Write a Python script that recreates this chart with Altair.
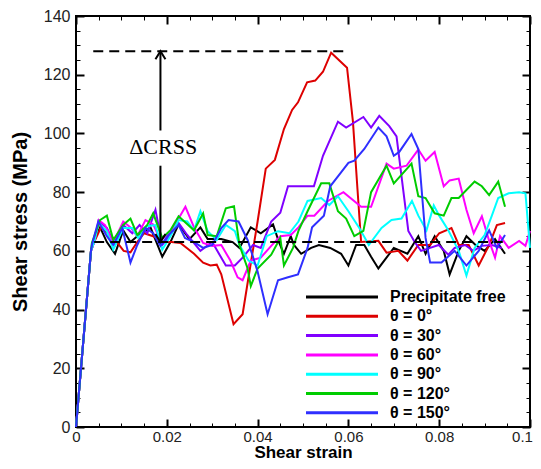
import altair as alt
import pandas as pd

series_names = ["Precipitate free", "θ = 0°", "θ = 30°", "θ = 60°", "θ = 90°", "θ = 120°", "θ = 150°"]
series_colors = ["#000000", "#dd0000", "#8000ff", "#ff00ff", "#00ffff", "#00cc00", "#2f2fff"]

pf_x = [0, 0.0033, 0.0038, 0.0053, 0.0068, 0.0086, 0.0104, 0.012, 0.0135, 0.0164, 0.019, 0.0208, 0.0226,
        0.025, 0.0274, 0.029, 0.032, 0.0345, 0.036, 0.0385, 0.0407, 0.0434, 0.0447, 0.0458, 0.0473, 0.048,
        0.0496, 0.0518, 0.0535, 0.056, 0.0584, 0.060, 0.0617, 0.0635, 0.065, 0.0666, 0.070, 0.073, 0.0754,
        0.077, 0.079, 0.081, 0.0823, 0.0843, 0.086, 0.088, 0.090, 0.0923, 0.0945]
pf_y = [0, 60, 63, 68, 63, 59, 67, 63, 65, 68, 58, 63, 69,
        64, 68, 64, 64, 63, 61, 68, 66, 69, 63, 59, 65, 62,
        59, 61, 62, 61, 59, 55, 62, 62, 58, 54, 61, 59, 65,
        59, 65, 60, 52, 60, 65, 62, 60, 64, 59]

r0_x = [0, 0.0033, 0.004, 0.0055, 0.007, 0.0085, 0.0105, 0.012, 0.0135, 0.015, 0.017, 0.019, 0.021, 0.023,
        0.026, 0.028, 0.0296, 0.031, 0.032, 0.0347, 0.0367, 0.038, 0.040, 0.0418, 0.0438, 0.0458, 0.0476,
        0.0489, 0.0509, 0.0527, 0.0544, 0.0562, 0.0597, 0.061, 0.062, 0.0628, 0.0666, 0.0684, 0.071, 0.073,
        0.0754, 0.078, 0.080, 0.0827, 0.0843, 0.0865, 0.0887, 0.091, 0.0927, 0.0945]
r0_y = [0, 60, 63, 68, 66, 64, 60, 59.5, 63, 66, 65, 63, 63, 62.7,
        59, 56, 55, 55.3, 52, 35, 38.4, 51, 70, 88, 91, 101.5, 108,
        110.6, 117.4, 118, 121, 127.5, 122.4, 104, 81, 63, 63.4, 59.4, 60, 56.7,
        62, 62, 66, 67.8, 62, 62, 55, 62, 68.8, 69.5]

r30_x = [0, 0.0033, 0.004, 0.005, 0.0068, 0.0086, 0.0104, 0.0124, 0.014, 0.0157, 0.0175, 0.019, 0.0208,
         0.0226, 0.0245, 0.0274, 0.030, 0.033, 0.035, 0.0367, 0.039, 0.0407, 0.043, 0.045, 0.0467, 0.049,
         0.0524, 0.0544, 0.0577, 0.0595, 0.0633, 0.065, 0.0668, 0.069, 0.0706, 0.0732, 0.0746, 0.076,
         0.078, 0.0799, 0.082, 0.0834, 0.0857, 0.0875, 0.0894, 0.0916, 0.0938]
r30_y = [0, 60, 63, 70, 67.8, 62, 68.8, 66, 68.8, 66, 74, 62, 65.4,
         69.5, 65.4, 60, 63, 55, 55, 57.7, 62, 61, 70, 73, 82, 82,
         82, 92.4, 104, 102, 105.6, 102, 106, 102.5, 99, 66.8, 63, 60,
         61, 62, 58.7, 61, 62, 60, 61.7, 62, 61]

r60_x = [0, 0.0033, 0.004, 0.005, 0.0064, 0.0082, 0.0104, 0.012, 0.0135, 0.0153, 0.017, 0.0186, 0.0208,
         0.0226, 0.0241, 0.026, 0.028, 0.030, 0.032, 0.034, 0.0356, 0.0367, 0.0385, 0.0407, 0.043, 0.045,
         0.0473, 0.049, 0.051, 0.0525, 0.0555, 0.0589, 0.0628, 0.065, 0.0684, 0.070, 0.0728, 0.0754, 0.077,
         0.079, 0.081, 0.0823, 0.0843, 0.086, 0.0876, 0.0894, 0.091, 0.0923, 0.0934, 0.0953, 0.0976, 0.099,
         0.1]
r60_y = [0, 60, 63, 70.5, 68.8, 62.7, 70, 68, 65, 70.5, 69, 63.7, 66,
         71, 75, 68, 62.7, 61.7, 62, 56.7, 51, 50, 56.7, 57.7, 61.7, 65,
         65.4, 68, 72, 72, 77, 80, 75, 75, 89.7, 88, 89, 94.5, 90.7,
         93.7, 82, 84, 84.6, 74, 66, 71.8, 63.4, 57.7, 65, 61, 63.4, 61.7,
         66.8]

r90_x = [0, 0.0033, 0.004, 0.005, 0.0068, 0.0082, 0.0104, 0.0124, 0.0137, 0.0157, 0.0175, 0.019, 0.0208,
         0.0226, 0.0245, 0.026, 0.0274, 0.029, 0.031, 0.033, 0.035, 0.036, 0.038, 0.040, 0.042, 0.0445,
         0.047, 0.049, 0.051, 0.054, 0.0558, 0.0577, 0.060, 0.0624, 0.0645, 0.0673, 0.0695, 0.0717, 0.074,
         0.0754, 0.0772, 0.0788, 0.080, 0.082, 0.0843, 0.086, 0.0878, 0.090, 0.0916, 0.093, 0.0953, 0.0976,
         0.099, 0.1]
r90_y = [0, 60, 63, 69.5, 66.7, 60.4, 67.8, 67.8, 64.4, 68.4, 68.8, 60.4, 65,
         70.5, 70, 67, 73.5, 66.7, 63.7, 68.8, 66.7, 62, 56.7, 55, 65, 66.7,
         66, 70, 77, 78, 75.6, 78.6, 73.5, 67.8, 62, 67.8, 70.5, 71, 77,
         72, 67, 75.5, 72, 67, 60, 51.6, 61, 65.4, 72, 78, 79.6, 80,
         79.6, 61]

r120_x = [0, 0.0033, 0.0035, 0.0053, 0.0068, 0.0082, 0.0104, 0.012, 0.0135, 0.0157, 0.017, 0.019, 0.0208,
          0.0226, 0.026, 0.028, 0.029, 0.031, 0.033, 0.0348, 0.036, 0.0378, 0.0385, 0.040, 0.043, 0.045,
          0.0458, 0.0478, 0.049, 0.051, 0.054, 0.0558, 0.0577, 0.0595, 0.0613, 0.0633, 0.065, 0.0684, 0.070,
          0.0739, 0.0754, 0.077, 0.079, 0.081, 0.0827, 0.0843, 0.0878, 0.0894, 0.091, 0.093, 0.0945]
r120_y = [0, 60, 62.7, 70.5, 72, 63.7, 68.8, 71, 65.4, 68.8, 72.8, 64.4, 67,
          71.8, 67, 72.8, 65.4, 65, 74.5, 75.2, 62, 54, 48, 54, 58.7, 64.4,
          55, 61, 66.8, 73.5, 83, 83, 73.5, 71, 65, 66.8, 80, 89, 83,
          89.7, 78.6, 78, 72.8, 72, 78, 78, 83.6, 82, 79, 83.6, 75]

r150_x = [0, 0.0033, 0.0035, 0.0049, 0.0068, 0.0082, 0.0102, 0.012, 0.0135, 0.0153, 0.017, 0.0186, 0.0204,
          0.0226, 0.024, 0.026, 0.028, 0.030, 0.032, 0.0336, 0.0358, 0.0378, 0.040, 0.0422, 0.0445, 0.0467,
          0.0489, 0.051, 0.052, 0.0546, 0.056, 0.058, 0.060, 0.0613, 0.0635, 0.0666, 0.0684, 0.070, 0.0712,
          0.0739, 0.0754, 0.077, 0.078, 0.0805, 0.0834, 0.086, 0.0887, 0.091, 0.0927, 0.0945]
r150_y = [0, 60, 62, 70, 65, 62, 67.8, 56, 62, 67.8, 66, 61.7, 65.4,
          68.8, 64.4, 63, 61, 62, 67.8, 70.5, 70, 63.7, 53, 38.4, 50, 51,
          52, 61, 68, 72, 82, 86, 90, 90.7, 94.7, 102, 99, 92.4, 93.7,
          99.8, 94.7, 64.4, 56, 56, 60, 55, 60, 67, 61, 65.4]

x_major = [0, 0.02, 0.04, 0.06, 0.08, 0.1]
x_minor = [0.005, 0.01, 0.015, 0.025, 0.03, 0.035, 0.045, 0.05, 0.055, 0.065, 0.07, 0.075, 0.085, 0.09, 0.095]
y_major = [0, 20, 40, 60, 80, 100, 120, 140]
y_minor = [v for v in range(5, 140, 5) if v % 20 != 0]

# annotations
dash_x = [0.0038, 0.004]
dash_x2 = [0.06, 0.094]
dash_y = [128, 63]
shaft_x = [0.0186, 0.0186]
shaft_y = [63, 101]
shaft_y2 = [89, 128]
head_x = [0.0186, 0.0186]
head_y = [128, 63]
head_dir = ["up", "down"]
label_text = ["ΔCRSS"]
label_x = [0.0192]
label_y = [95.4]

rows = []
for name, xs_, ys_ in zip(series_names,
                          [pf_x, r0_x, r30_x, r60_x, r90_x, r120_x, r150_x],
                          [pf_y, r0_y, r30_y, r60_y, r90_y, r120_y, r150_y]):
    for i, (a, b) in enumerate(zip(xs_, ys_)):
        rows.append({"series": name, "strain": a, "stress": b, "k": i})
df = pd.DataFrame(rows)

frame = pd.DataFrame({"strain": [0, 0.1], "stress": [0, 140]})

xs = alt.Scale(domain=[0, 0.1], nice=False, zero=False)
ys = alt.Scale(domain=[0, 140], nice=False, zero=False)

FONT = "Liberation Sans"


def tick_axis(orient, values, size, width, labels=False, **kw):
    return alt.Axis(orient=orient, values=values, tickSize=alt.ExprRef(expr=str(-size)),
                    tickWidth=width, tickColor="black", domain=False, grid=False,
                    labels=labels, **kw)


x_main = tick_axis("bottom", x_major, 8, 2, labels=True, format="~g", labelFont=FONT,
                   labelFontSize=15, labelColor="#222222", labelPadding=10, labelFlush=False,
                   labelOffset={"condition": {"test": "datum.value >= 0.099", "value": -8}, "value": 0},
                   title="Shear strain", titleFont=FONT, titleFontSize=17, titleFontWeight="bold",
                   titleColor="black", titlePadding=0)
y_main = tick_axis("left", y_major, 8, 2, labels=True, format="d", labelFont=FONT,
                   labelFontSize=16, labelColor="#222222", labelPadding=14, labelFlush=False,
                   title="Shear stress (MPa)", titleFont=FONT, titleFontSize=20,
                   titleFontWeight="bold", titleColor="black", titlePadding=13)

lines = alt.Chart(df).mark_line(strokeWidth=2).encode(
    x=alt.X("strain:Q", scale=xs, axis=x_main),
    y=alt.Y("stress:Q", scale=ys, axis=y_main),
    color=alt.Color("series:N", sort=series_names,
                    scale=alt.Scale(domain=series_names, range=series_colors),
                    legend=alt.Legend(title=None, orient="none", legendX=258, legendY=273,
                                      symbolType="M-9,0L9,0", symbolSize=64, symbolStrokeWidth=3,
                                      labelFont=FONT, labelFontSize=16, labelFontWeight="bold",
                                      labelColor="black", labelOffset=40, padding=0, rowPadding=3.3)),
    order=alt.Order("k:Q"),
)


def ticks_layer(xo, yo, xv, yv, size, width):
    return alt.Chart(frame).mark_point(opacity=0).encode(
        x=alt.X("strain:Q", scale=xs, axis=tick_axis(xo, xv, size, width, title=None)),
        y=alt.Y("stress:Q", scale=ys, axis=tick_axis(yo, yv, size, width, title=None)),
    )


top_right_major = ticks_layer("top", "right", x_major, y_major, 8, 2)
bottom_left_minor = ticks_layer("bottom", "left", x_minor, y_minor, 4, 1)
top_right_minor = ticks_layer("top", "right", x_minor, y_minor, 4, 1)

dash_df = pd.DataFrame({"strain": dash_x, "strain2": dash_x2, "stress": dash_y})
dashes = alt.Chart(dash_df).mark_rule(color="black", strokeWidth=2, strokeDash=[10, 6]).encode(
    x=alt.X("strain:Q", axis=None), x2="strain2:Q", y=alt.Y("stress:Q", axis=None))

shaft_df = pd.DataFrame({"strain": shaft_x, "stress": shaft_y, "stress2": shaft_y2})
shaft = alt.Chart(shaft_df).mark_rule(color="black", strokeWidth=2).encode(
    x=alt.X("strain:Q", axis=None), y=alt.Y("stress:Q", axis=None), y2="stress2:Q")

head_df = pd.DataFrame({"strain": head_x, "stress": head_y, "dir": head_dir})
heads = alt.Chart(head_df).mark_point(filled=False, color="black", strokeWidth=2, size=100,
                                      opacity=1, strokeJoin="miter").encode(
    x=alt.X("strain:Q", axis=None), y=alt.Y("stress:Q", axis=None),
    shape=alt.Shape("dir:N", scale=alt.Scale(domain=["up", "down"],
                                             range=["M-1,1.6L0,0L1,1.6", "M-1,-1.6L0,0L1,-1.6"]),
                    legend=None))

txt_df = pd.DataFrame({"strain": label_x, "stress": label_y, "t": label_text})
txt = alt.Chart(txt_df).mark_text(font="Liberation Serif", fontSize=22, color="black").encode(
    x=alt.X("strain:Q", axis=None), y=alt.Y("stress:Q", axis=None), text="t:N")

chart = alt.layer(
    lines, top_right_major, bottom_left_minor, top_right_minor, dashes, shaft, heads, txt
).resolve_axis(x="independent", y="independent").resolve_scale(x="shared", y="shared").properties(
    width=454, height=411,
    autosize=alt.AutoSizeParams(type="none"),
    padding={"left": 68, "top": 8, "right": 3, "bottom": 34},
).configure_view(stroke="black", strokeWidth=2)

chart.save("out.html", embed_options={"renderer": "svg", "actions": False})
